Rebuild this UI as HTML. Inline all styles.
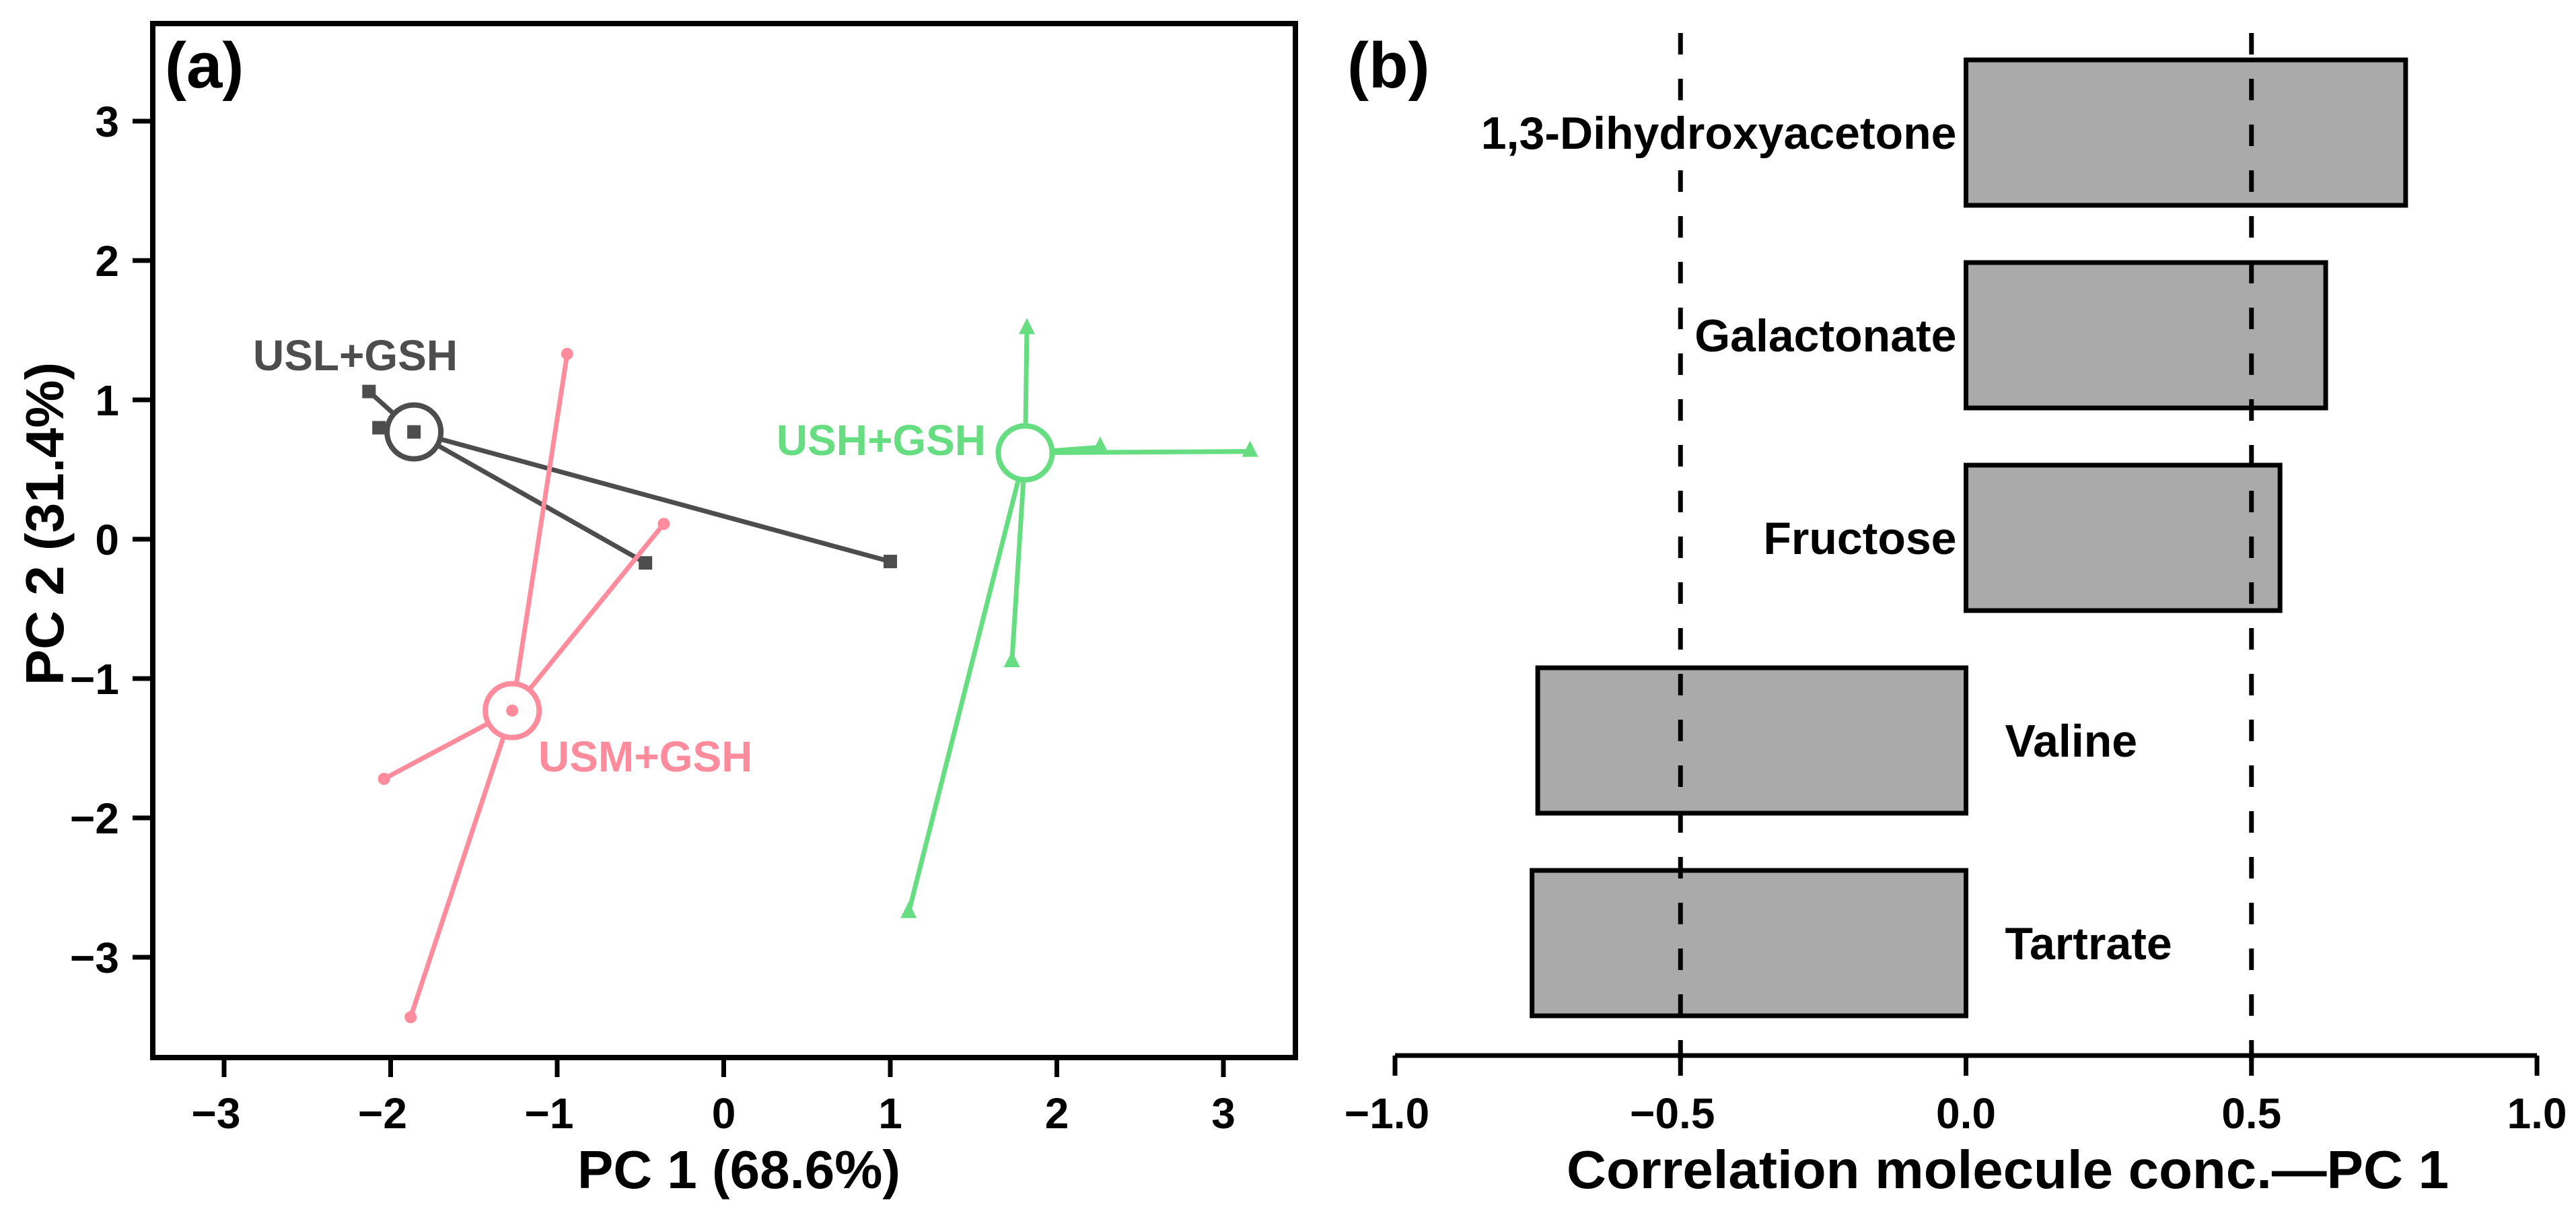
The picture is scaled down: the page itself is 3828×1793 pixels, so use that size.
<!DOCTYPE html>
<html><head><meta charset="utf-8"><style>
html,body{margin:0;padding:0;background:#fff;}
svg{display:block;font-family:"Liberation Sans",Arial,sans-serif;font-weight:bold;}
</style></head><body>
<svg id="chart" width="3828" height="1793" viewBox="0 0 3828 1793" xmlns="http://www.w3.org/2000/svg">
<rect width="3828" height="1793" fill="#fff"/>
<g id="pa"></g>
<g id="pb"></g>
</svg>
<script>
// ---- Panel (a) data ----
const groupNames = ["USL+GSH","USM+GSH","USH+GSH"];
const uslCenter = [-1.86, 0.77];
const uslX = [-2.13, -2.07, -1.86, -0.47, 1.00];
const uslY = [1.06, 0.80, 0.77, -0.17, -0.16];
const usmCenter = [-1.27, -1.23];
const usmX = [-0.94, -0.36, -2.04, -1.88, -1.27];
const usmY = [1.33, 0.11, -1.72, -3.43, -1.23];
const ushCenter = [1.81, 0.62];
const ushX = [1.82, 2.26, 3.16, 1.73, 1.11];
const ushY = [1.51, 0.66, 0.63, -0.88, -2.68];
const xTicksA = [-3,-2,-1,0,1,2,3];
const yTicksA = [-3,-2,-1,0,1,2,3];
// ---- Panel (b) data ----
const molecules = ["1,3-Dihydroxyacetone","Galactonate","Fructose","Valine","Tartrate"];
const correlations = [0.77, 0.63, 0.55, -0.75, -0.76];
const xTicksB = [-1.0,-0.5,0.0,0.5,1.0];
const refLines = [-0.5, 0.5];

const NS="http://www.w3.org/2000/svg";
function mk(parent,tag,attrs,text){const e=document.createElementNS(NS,tag);for(const k in attrs)e.setAttribute(k,attrs[k]);if(text!==undefined)e.textContent=text;parent.appendChild(e);return e;}
const tlabel=v=>(v<0?"\u2212":"")+Math.abs(v);

// ---- Panel (a) ----
const pa=document.getElementById('pa');
const X=v=>333+(v+3)*247.5, Y=v=>180+(3-v)*207;
let el=mk(pa,'rect',{x:227,y:35,width:1698,height:1536,fill:'none',stroke:'#000','stroke-width':8});


xTicksA.forEach(v=>{
  let t=mk(pa,'line',{x1:X(v),y1:1571,x2:X(v),y2:1600,stroke:'#000','stroke-width':7});
  
  
  let l=mk(pa,'text',{x:X(v)-(v<0?12:0),y:1676,'font-size':64,'text-anchor':'middle'},tlabel(v));
  
  
});
yTicksA.forEach(v=>{
  let t=mk(pa,'line',{x1:197,y1:Y(v),x2:227,y2:Y(v),stroke:'#000','stroke-width':7});
  
  
  let l=mk(pa,'text',{x:177,y:Y(v)+23,'font-size':64,'text-anchor':'end'},tlabel(v));
  
  
});
el=mk(pa,'text',{x:858,y:1765,'font-size':80,textLength:480,lengthAdjust:'spacingAndGlyphs'},'PC 1 (68.6%)');


el=mk(pa,'text',{x:0,y:0,'font-size':80,'text-anchor':'middle',transform:'translate(94,778) rotate(-90)'},'PC 2 (31.4%)');


el=mk(pa,'text',{x:245,y:130,'font-size':96},'(a)');



const groups=[
 {c:uslCenter,xs:uslX,ys:uslY,col:'#4d4d4d',m:'square',name:'usl'},
 {c:usmCenter,xs:usmX,ys:usmY,col:'#ff8c9c',m:'dot',name:'usm'},
 {c:ushCenter,xs:ushX,ys:ushY,col:'#66dd80',m:'tri',name:'ush'}];
groups.forEach(g=>{
  const cx=X(g.c[0]), cy=Y(g.c[1]);
  g.xs.forEach((xv,i)=>{
    const px=X(xv), py=Y(g.ys[i]);
    let ln=mk(pa,'line',{x1:cx,y1:cy,x2:px,y2:py,stroke:g.col,'stroke-width':7});
    
    
  });
  let c=mk(pa,'circle',{cx:cx,cy:cy,r:40,fill:'#fff',stroke:g.col,'stroke-width':8});
  
  
  g.xs.forEach((xv,i)=>{
    const px=X(xv), py=Y(g.ys[i]); let p;
    if(g.m==='square') p=mk(pa,'rect',{x:px-10,y:py-10,width:20,height:20,fill:g.col});
    else if(g.m==='dot') p=mk(pa,'circle',{cx:px,cy:py,r:9,fill:g.col});
    else p=mk(pa,'polygon',{points:`${px},${py-16} ${px-12},${py+8} ${px+12},${py+8}`,fill:g.col});
    
    
  });
});
const lbls=[[groupNames[0],376,550,'#4d4d4d','start'],[groupNames[1],800,1146,'#ff8c9c','start'],[groupNames[2],1465,676,'#66dd80','end']];
lbls.forEach(l=>{
  let t=mk(pa,'text',{x:l[1],y:l[2],'font-size':64,fill:l[3],'text-anchor':l[4]},l[0]);
  
  
});

// ---- Panel (b) ----
const pb=document.getElementById('pb');
const XB=v=>2921.5+v*848.5;
const barTop=i=>89+i*301, barH=216;
correlations.forEach((v,i)=>{
  const x0=Math.min(XB(0),XB(v)), w=Math.abs(XB(v)-XB(0));
  let r=mk(pb,'rect',{x:x0,y:barTop(i),width:w,height:barH,fill:'#aaaaaa',stroke:'#000','stroke-width':7});
  
  
  const cy=barTop(i)+barH/2+24;
  let t=mk(pb,'text',{x:v>=0?XB(0)-14:XB(0)+58,y:cy,'font-size':68,'text-anchor':v>=0?'end':'start'},molecules[i]);
  
  
});
refLines.forEach(v=>{
  let d=mk(pb,'line',{x1:XB(v),y1:49,x2:XB(v),y2:1600,stroke:'#000','stroke-width':7,'stroke-dasharray':'32 36'});
  
  
});
el=mk(pb,'line',{x1:XB(-1),y1:1568,x2:XB(1),y2:1568,stroke:'#000','stroke-width':7});


xTicksB.forEach(v=>{
  let t=mk(pb,'line',{x1:XB(v),y1:1568,x2:XB(v),y2:1598,stroke:'#000','stroke-width':7});
  
  
  let l=mk(pb,'text',{x:XB(v)-(v<0?12:0),y:1676,'font-size':64,'text-anchor':'middle'},(v<0?"\u2212":"")+Math.abs(v).toFixed(1));
  
  
});
el=mk(pb,'text',{x:2328,y:1765,'font-size':80,textLength:1311,lengthAdjust:'spacingAndGlyphs'},'Correlation molecule conc.\u2014PC 1');


el=mk(pb,'text',{x:2002,y:130,'font-size':96},'(b)');


</script>
</body></html>
